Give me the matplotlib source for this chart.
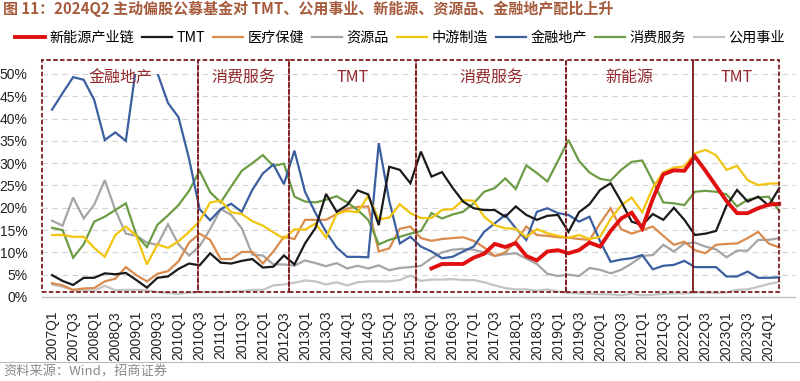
import numpy as np
import matplotlib
matplotlib.use("Agg")
import matplotlib.pyplot as plt
from matplotlib.lines import Line2D
from matplotlib.patches import Rectangle

plt.rcParams['font.family'] = ['Liberation Sans', 'Noto Sans CJK SC', 'DejaVu Sans']

quarters = [f"{y}Q{q}" for y in range(2007, 2025) for q in range(1, 5)][:70]

nan = np.nan
new_energy = [nan] * 36 + [6.4, 7.4, 7.4, 7.4, 8.8, 9.7, 11.9, 11.2, 12.1, 9.2,
                           8.2, 10.2, 10.5, 9.8, 10.5, 12.2, 11.3, 14.8, 17.6, 18.9,
                           15.4, 22.0, 27.5, 28.4, 28.3, 31.5, 28.3, 24.9, 21.5, 18.8,
                           18.8, 19.9, 20.7, 20.9]
tmt = [4.9, 3.6, 2.7, 4.3, 4.3, 5.3, 5.1, 5.4, 3.8, 2.1,
       4.3, 4.6, 6.3, 7.5, 7.1, 9.8, 7.7, 7.5, 8.1, 8.5,
       6.6, 6.8, 9.3, 7.3, 12.0, 15.5, 23.1, 19.1, 20.6, 23.9,
       23.0, 16.1, 29.2, 28.5, 25.5, 32.6, 27.0, 28.0, 24.5, 21.4,
       19.9, 19.5, 19.5, 18.0, 20.3, 18.4, 17.3, 18.2, 18.4, 14.6,
       19.0, 20.8, 24.0, 25.5, 21.4, 16.9, 16.1, 18.6, 17.3, 20.0,
       17.3, 13.9, 14.2, 14.8, 20.5, 24.0, 21.4, 22.5, 20.5, 24.4]
healthcare = [3.1, 2.6, 1.6, 1.9, 2.0, 3.5, 4.1, 6.7, 4.9, 3.5,
              5.2, 5.8, 8.0, 12.2, 14.2, 12.8, 8.5, 8.5, 10.1, 10.1,
              7.5, 10.2, 13.5, 13.0, 17.3, 17.3, 17.3, 18.6, 19.8, 20.2,
              20.3, 10.2, 10.9, 15.3, 15.8, 13.2, 12.6, 13.0, 13.2, 13.4,
              12.6, 11.1, 9.2, 10.0, 12.5, 15.8, 13.9, 13.7, 13.4, 13.3,
              13.0, 12.8, 16.5, 19.9, 15.2, 14.2, 15.0, 15.8, 13.7, 11.7,
              12.4, 10.5, 9.8, 11.7, 11.9, 12.0, 13.2, 14.6, 12.0, 11.1]
resources = [17.1, 16.0, 22.3, 17.6, 20.7, 26.2, 19.5, 14.2, 13.7, 12.2,
             11.7, 16.3, 11.8, 9.3, 11.4, 15.2, 19.7, 18.4, 15.4, 9.5,
             9.3, 7.3, 7.3, 7.0, 8.2, 7.6, 6.9, 7.6, 6.4, 7.0,
             6.4, 7.1, 6.0, 6.5, 6.7, 7.0, 8.7, 10.0, 10.6, 10.8,
             10.6, 10.0, 9.2, 9.6, 9.8, 8.6, 7.4, 5.2, 4.7, 5.0,
             4.7, 6.5, 6.1, 5.3, 6.1, 7.5, 9.2, 9.4, 11.7, 10.2,
             12.0, 12.2, 11.3, 10.7, 8.9, 10.4, 10.4, 12.8, 12.8, 13.2]
midstream = [13.9, 13.9, 13.5, 13.5, 11.0, 9.0, 13.9, 15.8, 13.7, 7.3,
             11.8, 11.0, 12.5, 14.6, 17.0, 21.2, 21.6, 19.0, 18.6, 17.0,
             16.0, 14.5, 13.1, 15.2, 15.1, 16.5, 13.3, 18.6, 19.3, 19.0,
             22.7, 17.4, 17.8, 20.8, 18.8, 17.7, 17.7, 19.5, 19.7, 21.7,
             21.6, 18.0, 16.1, 15.4, 15.3, 13.4, 15.2, 14.3, 13.7, 13.3,
             13.9, 13.0, 13.5, 17.5, 20.5, 22.3, 19.0, 24.5, 28.0, 29.0,
             29.3, 32.2, 33.0, 31.8, 28.5, 29.4, 26.2, 25.1, 25.4, 25.5]
finance = [42.0, 45.7, 49.3, 48.7, 44.2, 35.2, 36.9, 35.0, 52.0, 55.0,
           50.2, 43.5, 40.3, 31.0, 19.7, 17.2, 19.7, 20.9, 19.1, 24.0,
           27.7, 29.7, 25.3, 32.8, 23.6, 18.8, 14.6, 11.1, 9.0, 9.0,
           8.9, 34.5, 21.5, 12.0, 13.5, 11.3, 10.2, 8.7, 9.0, 10.2,
           11.3, 14.6, 16.5, 18.4, 15.4, 12.8, 19.1, 19.9, 18.8, 18.4,
           16.9, 18.0, 12.5, 7.9, 8.4, 8.7, 9.4, 6.2, 7.0, 7.2,
           8.1, 6.7, 6.7, 6.7, 4.6, 4.6, 5.7, 4.3, 4.3, 4.4]
consumer = [15.5, 15.0, 8.8, 11.8, 16.9, 18.0, 19.5, 21.0, 13.9, 11.2,
            16.2, 18.3, 20.6, 23.8, 28.3, 23.5, 21.2, 24.8, 28.3, 30.0,
            31.8, 29.4, 29.9, 22.5, 21.4, 21.2, 21.8, 22.6, 21.2, 19.5,
            17.3, 11.8, 12.8, 13.5, 14.2, 14.8, 18.8, 17.6, 18.5, 19.1,
            21.0, 23.6, 24.4, 26.6, 24.2, 29.5, 27.8, 25.9, 30.5, 35.2,
            30.5, 27.9, 26.5, 26.1, 28.5, 30.3, 30.6, 26.0, 21.2, 21.0,
            20.6, 23.6, 23.8, 23.6, 23.0, 20.3, 21.8, 22.3, 22.5, 19.3]
utilities = [2.8, 2.3, 1.5, 1.5, 1.4, 2.5, 1.5, 1.6, 1.6, 1.5,
             1.1, 0.9, 0.7, 1.0, 1.1, 1.1, 1.1, 1.2, 1.3, 1.6,
             1.6, 2.6, 2.8, 3.2, 3.7, 3.5, 2.8, 3.3, 2.6, 3.3,
             3.5, 3.5, 3.5, 3.8, 4.8, 3.6, 3.9, 3.9, 4.0, 3.8,
             3.8, 3.3, 2.6, 2.0, 1.7, 1.7, 1.4, 1.7, 1.2, 0.9,
             0.8, 0.7, 0.6, 0.6, 0.4, 0.7, 0.4, 0.5, 0.7, 0.8,
             0.8, 1.0, 1.0, 0.9, 1.0, 1.6, 1.7, 2.3, 2.9, 3.4]

series_names = ["新能源产业链", "TMT", "医疗保健", "资源品", "中游制造", "金融地产", "消费服务", "公用事业"]
box_labels = ["金融地产", "消费服务", "TMT", "消费服务", "新能源", "TMT"]
box_edges = [-0.93, 13.88, 22.49, 34.54, 48.74, 60.82, 69.0]

colors = ["#E01010", "#1A1A1A", "#D98B4E", "#A5A5A5", "#F2C511", "#3B5FA0", "#6C9C44", "#C4C4C4"]
widths = [2.8, 1.6, 1.6, 1.6, 1.6, 1.6, 1.6, 1.6]
data = [new_energy, tmt, healthcare, resources, midstream, finance, consumer, utilities]

fig = plt.figure(figsize=(8, 3.81), dpi=100)
ax = fig.add_axes([0.0519, 0.2205, 0.9419, 0.5853])
x = np.arange(len(quarters))

for yv in range(5, 55, 5):
    ax.axhline(yv, color="#D3D3D3", lw=0.8, ls=(0, (5, 4)), zorder=0, clip_on=False)

order = [7, 3, 2, 6, 5, 4, 1, 0]
for k in order:
    ax.plot(x, data[k], color=colors[k], lw=widths[k], zorder=3 + (5 if k == 0 else 0),
            solid_joinstyle="miter")
handles = [Line2D([], [], color=colors[k], lw=widths[k]) for k in range(8)]

ax.set_xlim(-1.0, 70.5)
ax.set_ylim(0, 50)

box_color = "#7E1E22"
for j in range(len(box_labels)):
    x0, x1 = box_edges[j], box_edges[j + 1]
    rect = Rectangle((x0, 1.05), x1 - x0, 52.05, fill=False, edgecolor=box_color,
                     lw=1.3, ls=(0, (2.5, 1.3)), zorder=10, clip_on=False)
    ax.add_patch(rect)
    ax.text((x0 + x1) / 2, 49.2, box_labels[j], ha="center", va="center",
            fontsize=11.5, color="#93292B", zorder=11,
            family=['Noto Sans CJK SC', 'DejaVu Sans'])

ax.set_yticks(range(0, 55, 5))
ax.set_yticklabels([f"{v}%" for v in range(0, 55, 5)], fontsize=10, color="#222222")
ax.set_xticks(x[::2])
ax.set_xticklabels(quarters[::2], rotation=90, fontsize=10, color="#222222")
ax.tick_params(length=0, pad=10)
ax.tick_params(axis="y", pad=10)
for s in ["left", "top", "right"]:
    ax.spines[s].set_visible(False)
ax.spines["bottom"].set_color("#BFBFBF")
ax.spines["bottom"].set_linewidth(1.0)

fig.legend(handles, series_names, ncol=8, loc="center", bbox_to_anchor=(0.5, 1 - 38 / 381),
           frameon=False, handlelength=2.1, handletextpad=0.3,
           columnspacing=0.6, borderpad=0.2,
           prop={'family': ['Noto Sans CJK SC', 'DejaVu Sans'], 'size': 10.2})

fig.text(0.004, 1 - 9 / 381, "图 11：2024Q2 主动偏股公募基金对 TMT、公用事业、新能源、资源品、金融地产配比上升",
         ha="left", va="center", fontsize=10.8, fontweight="bold", color="#A65A3C",
         family=['Noto Sans CJK SC', 'DejaVu Sans'])

fig.add_artist(Line2D([0, 1], [1 - 362 / 381] * 2, color="#BBBBBB", lw=0.8))
fig.text(0.004, 1 - 372 / 381, "资料来源：Wind，招商证券", ha="left", va="center",
         fontsize=9.5, color="#8A8A8A", family=['Noto Sans CJK SC', 'DejaVu Sans'])

fig.savefig("out.png", dpi=100)
